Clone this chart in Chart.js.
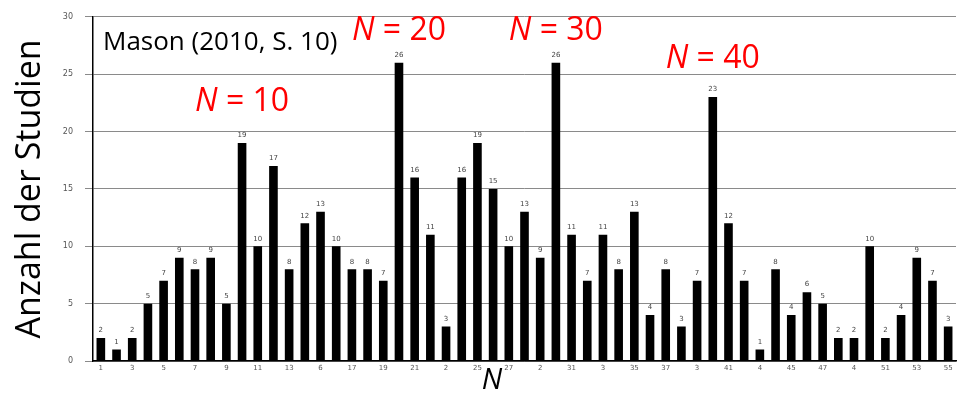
<!DOCTYPE html>
<html>
<head>
<meta charset="utf-8">
<script src="https://cdn.jsdelivr.net/npm/chart.js@4.4.1/dist/chart.umd.min.js"></script>
<style>
  html, body { margin: 0; padding: 0; background: #fff; }
  #wrap { width: 974px; height: 397px; position: relative; }
</style>
</head>
<body>
<div id="wrap"><canvas id="studyChart"></canvas></div>
<script>
/* ==================== DATA ==================== */
const sampleSizes = ["1","2","3","4","5","6","7","8","9","10",
  "11","12","13","14","15","16","17","18","19","20",
  "21","22","23","24","25","26","27","28","29","30",
  "31","32","33","34","35","36","37","38","39","40",
  "41","42","43","44","45","46","47","48","49","50",
  "51","52","53","54","55"];

const studyCounts = [2, 1, 2, 5, 7, 9, 8, 9, 5, 19,
  10, 17, 8, 12, 13, 10, 8, 8, 7, 26,
  16, 11, 3, 16, 19, 15, 10, 13, 9, 26,
  11, 7, 11, 8, 13, 4, 8, 3, 7, 23,
  12, 7, 1, 8, 4, 6, 5, 2, 2, 10,
  2, 4, 9, 7, 3];

// labels under every second bar, as printed (partly cut off) in the source
const xTickLabels = ["1","3","5","7","9","11","13","6","17","19",
  "21","2","25","27","2","31","3","35","37","3",
  "41","4","45","47","4","51","53","55"];

const yTickValues = [0, 5, 10, 15, 20, 25, 30];

const highlightN = ["10", "20", "30", "40"];

/* ==================== PLUGINS ==================== */
const valueLabels = {
  id: "valueLabels",
  afterDatasetsDraw(chart) {
    const ctx = chart.ctx;
    const meta = chart.getDatasetMeta(0);
    ctx.save();
    ctx.font = '7px "DejaVu Sans"';
    ctx.fillStyle = "#444";
    ctx.textAlign = "center";
    ctx.textBaseline = "bottom";
    meta.data.forEach((bar, i) => {
      ctx.fillText(String(studyCounts[i]), bar.x, bar.y - 4);
    });
    ctx.restore();
  }
};

// vertical level (in y units) of each red "N = .." note
const noteLevel = { "10": 22.6, "20": 28.8, "30": 28.8, "40": 26.3 };

const notes = {
  id: "notes",
  afterDraw(chart) {
    const ctx = chart.ctx;
    const xs = chart.scales.x, ys = chart.scales.y;
    ctx.save();
    ctx.textBaseline = "middle";
    ctx.textAlign = "left";

    // source
    ctx.fillStyle = "#000";
    ctx.font = '26px "Open Sans"';
    ctx.fillText("Mason (2010, S. 10)", 103, 43);

    // red N = .. labels
    ctx.fillStyle = "#ff0000";
    highlightN.forEach(n => {
      const cx = xs.getPixelForValue(sampleSizes.indexOf(n));
      const cy = ys.getPixelForValue(noteLevel[n]);
      ctx.font = 'italic 32px "Open Sans"';
      const w1 = ctx.measureText("N").width;
      ctx.font = '32px "Open Sans"';
      const rest = " = " + n;
      const w2 = ctx.measureText(rest).width;
      const x0 = cx - (w1 + w2) / 2;
      ctx.font = 'italic 32px "Open Sans"';
      ctx.fillText("N", x0, cy);
      ctx.font = '32px "Open Sans"';
      ctx.fillText(rest, x0 + w1, cy);
    });

    // x axis title
    ctx.fillStyle = "#000";
    ctx.font = 'italic 29px "Open Sans"';
    ctx.textAlign = "center";
    ctx.fillText("N", 492, 381);
    ctx.restore();
  }
};

/* ==================== CHART ==================== */
new Chart(document.getElementById("studyChart"), {
  type: "bar",
  data: {
    labels: sampleSizes,
    datasets: [{
      data: studyCounts,
      backgroundColor: "#000",
      borderWidth: 0,
      barPercentage: 0.55,
      categoryPercentage: 1.0
    }]
  },
  options: {
    responsive: true,
    maintainAspectRatio: false,
    animation: false,
    layout: { padding: { top: 16, right: 18, left: 0, bottom: 0 } },
    plugins: { legend: { display: false }, tooltip: { enabled: false } },
    scales: {
      x: {
        grid: { display: false },
        border: { display: true, color: "#000", width: 1.5 },
        ticks: {
          autoSkip: false,
          maxRotation: 0,
          padding: -5,
          color: "#555",
          font: { family: "DejaVu Sans", size: 7 },
          callback: (v, i) => (i % 2 === 0 ? xTickLabels[i / 2] : "")
        },
        afterFit: s => { s.height = 36; }
      },
      y: {
        min: 0,
        max: 30,
        afterBuildTicks: s => { s.ticks = yTickValues.map(v => ({ value: v })); },
        grid: { color: "#8a8a8a", lineWidth: 1, tickLength: 8, tickColor: "#8a8a8a" },
        border: { display: true, color: "#000", width: 1.5 },
        ticks: {
          padding: 12,
          color: "#555",
          font: { family: "DejaVu Sans", size: 8 }
        },
        title: {
          display: true,
          text: "Anzahl der Studien",
          color: "#000",
          font: { family: "Open Sans", size: 34 },
          padding: { top: 10, bottom: 0 }
        },
        afterFit: s => { s.width = 93; }
      }
    }
  },
  plugins: [valueLabels, notes]
});
</script>
</body>
</html>
